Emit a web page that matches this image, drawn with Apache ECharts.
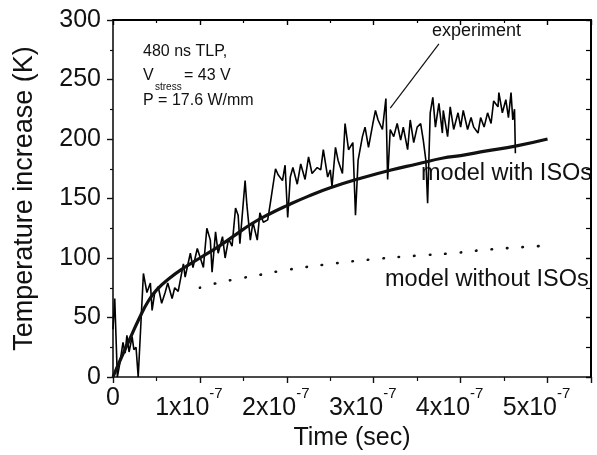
<!DOCTYPE html>
<html>
<head>
<meta charset="utf-8">
<script src="https://cdn.jsdelivr.net/npm/echarts@6/dist/echarts.min.js"></script>
<style>
html,body{margin:0;padding:0;background:#fff;overflow:hidden;}
#c{width:597px;height:455px;}
</style>
</head>
<body>
<div id="c"></div>
<script>
// time in units of 1e-7 s, temperature increase in K
const expTime = [
  0, 0.02, 0.05, 0.08, 0.115, 0.14, 0.16, 0.185, 0.22, 0.24,
  0.265, 0.29, 0.35, 0.39, 0.43, 0.45, 0.48, 0.52, 0.56, 0.60,
  0.63, 0.68, 0.71, 0.75, 0.81, 0.83, 0.89, 0.92, 0.97, 1.04,
  1.08, 1.12, 1.14, 1.18, 1.21, 1.26, 1.29, 1.33, 1.37, 1.41,
  1.44, 1.46, 1.52, 1.54, 1.58, 1.61, 1.66, 1.69, 1.73, 1.78,
  1.81, 1.87, 1.90, 1.95, 1.98, 2.01, 2.04, 2.07, 2.12, 2.16,
  2.21, 2.25, 2.29, 2.35, 2.39, 2.42, 2.47, 2.50, 2.52, 2.56,
  2.59, 2.64, 2.67, 2.71, 2.76, 2.79, 2.82, 2.87, 2.90, 2.94,
  2.99, 3.02, 3.05, 3.10, 3.14, 3.16, 3.19, 3.23, 3.27, 3.31,
  3.34, 3.39, 3.42, 3.46, 3.50, 3.54, 3.57, 3.60, 3.62, 3.65,
  3.68, 3.71, 3.75, 3.79, 3.80, 3.85, 3.88, 3.92, 3.97, 4.00,
  4.03, 4.08, 4.12, 4.15, 4.20, 4.23, 4.27, 4.31, 4.35, 4.38,
  4.43, 4.44, 4.48, 4.52, 4.55, 4.58, 4.60, 4.62, 4.63
];
const expTemp = [
  40, 66, 0, 12, 29, 20, 35, 21, 34, 23,
  25, 0, 87, 71, 79, 56, 71, 76, 62, 71,
  79, 66, 75, 72, 95, 84, 104, 92, 108, 92,
  125, 115, 88, 122, 104, 118, 100, 116, 110, 142,
  136, 112, 165, 145, 115, 130, 115, 138, 130, 132,
  146, 175, 170, 165, 178, 134, 168, 176, 162, 179,
  166, 185, 171, 176, 174, 191, 168, 174, 160, 193,
  182, 171, 213, 191, 197, 136, 182, 202, 210, 193,
  213, 224, 216, 208, 234, 166, 208, 202, 213, 199,
  210, 191, 216, 197, 210, 213, 199, 182, 146, 222,
  235, 210, 230, 205, 224, 202, 227, 208, 222, 210,
  224, 208, 218, 210, 205, 218, 210, 222, 213, 232,
  227, 239, 222, 233, 218, 239, 216, 225, 188
];
const modelTime = [0, 0.1, 0.2, 0.3, 0.4, 0.5, 0.65, 0.8, 1.0, 1.2, 1.4, 1.6, 1.8, 2.0, 2.25, 2.5, 2.85, 3.2, 3.5, 3.8, 4.0, 4.3, 4.63, 5.0];
const modelTemp = [0, 17, 33, 49, 63, 73, 83, 91, 100, 109, 119, 129, 137, 144, 152, 159, 167, 174, 179, 184, 186, 190, 194, 200];
const noIsoTime = [1.0, 1.2, 1.4, 1.7, 2.0, 2.5, 3.0, 3.5, 3.9, 4.3, 4.9];
const noIsoTemp = [75, 79, 82, 86, 90, 95, 99, 102, 104, 107, 110];
const arrowFrom = [3.75, 280];
const arrowTo = [3.19, 226];
const xMin = 0, xMax = 5.5, yMin = 0, yMax = 300;
const yTicks = [0, 50, 100, 150, 200, 250, 300];

const FF = "'Liberation Sans', Arial, Helvetica, sans-serif";
const zip = (a, b) => a.map((v, i) => [v, b[i]]);
const INK = '#111';

const chart = echarts.init(document.getElementById('c'), null, {renderer: 'canvas'});
chart.setOption({
  animation: false,
  backgroundColor: '#fff',
  grid: {left: 113, right: 6, top: 20, bottom: 78, containLabel: false, outerBoundsMode: 'none'},
  xAxis: [{
    type: 'value', min: xMin, max: xMax, interval: 1, position: 'bottom',
    axisLine: {show: true, onZero: false, lineStyle: {color: INK, width: 1.6}},
    axisTick: {show: true, inside: false, length: 6, lineStyle: {color: INK, width: 1.4}},
    minorTick: {show: true, splitNumber: 2, length: 4, lineStyle: {color: INK, width: 1.2}},
    splitLine: {show: false},
    axisLabel: {
      margin: 9, color: INK, fontFamily: FF,
      formatter: function (v) {
        if (Math.abs(v) < 1e-9) return '{z|0}';
        if (Math.abs(v - Math.round(v)) > 1e-6) return '';
        return '{b|' + Math.round(v) + 'x10}{s|-7}';
      },
      rich: {
        z: {fontSize: 25, lineHeight: 24, fontFamily: FF, color: INK},
        b: {fontSize: 25, lineHeight: 44, fontFamily: FF, color: INK},
        s: {fontSize: 15, lineHeight: 26, verticalAlign: 'top', fontFamily: FF, color: INK, padding: [0, 22, 0, 0]}
      }
    },
    name: 'Time (sec)', nameLocation: 'middle', nameGap: 46,
    nameTextStyle: {fontSize: 25, fontFamily: FF, color: INK}
  }, {
    type: 'value', min: xMin, max: xMax, interval: 1, position: 'top',
    axisLine: {show: true, onZero: false, lineStyle: {color: '#000', width: 2}},
    axisTick: {show: true, inside: true, length: 5, lineStyle: {color: '#000', width: 1.4}},
    minorTick: {show: true, splitNumber: 2, length: 3, lineStyle: {color: '#000', width: 1.2}},
    splitLine: {show: false},
    axisLabel: {show: false}
  }],
  yAxis: [{
    type: 'value', min: yMin, max: yMax, interval: 50, position: 'left',
    axisLine: {show: true, onZero: false, lineStyle: {color: INK, width: 1.6}},
    axisTick: {show: true, inside: false, length: 6, lineStyle: {color: INK, width: 1.4}},
    minorTick: {show: true, splitNumber: 2, length: 3, lineStyle: {color: INK, width: 1.2}},
    splitLine: {show: false},
    axisLabel: {
      margin: 12, fontSize: 25, fontFamily: FF, color: INK,
      formatter: v => yTicks.includes(v) ? String(v) : ''
    },
    name: 'Temperature increase (K)', nameLocation: 'middle', nameGap: 75,
    nameTextStyle: {fontSize: 27, fontFamily: FF, color: INK}
  }, {
    type: 'value', min: yMin, max: yMax, interval: 50, position: 'right',
    axisLine: {show: true, onZero: false, lineStyle: {color: '#000', width: 2}},
    axisTick: {show: true, inside: true, length: 5, lineStyle: {color: '#000', width: 1.4}},
    minorTick: {show: true, splitNumber: 2, length: 5, lineStyle: {color: '#000', width: 1.2}},
    splitLine: {show: false},
    axisLabel: {show: false}
  }],
  series: [{
    name: 'experiment', type: 'line', xAxisIndex: 0, yAxisIndex: 0,
    data: zip(expTime, expTemp), showSymbol: false, smooth: false,
    lineStyle: {color: '#000', width: 1.6}, z: 3,
    markLine: {
      silent: true, symbol: ['none', 'arrow'], symbolSize: [0, 9],
      label: {show: false},
      lineStyle: {color: INK, width: 1.2, type: 'solid'},
      data: [[{coord: arrowFrom}, {coord: arrowTo}]]
    }
  }, {
    name: 'model with ISOs', type: 'line', xAxisIndex: 0, yAxisIndex: 0,
    data: zip(modelTime, modelTemp), showSymbol: false, smooth: true,
    lineStyle: {color: INK, width: 3.2}, z: 4
  }, {
    name: 'model without ISOs', type: 'line', xAxisIndex: 0, yAxisIndex: 0,
    data: zip(noIsoTime, noIsoTemp), showSymbol: false, smooth: true,
    lineStyle: {color: INK, width: 2.6, type: [0.5, 15], cap: 'round'}, z: 2
  }, {
    name: 'frame', type: 'line', xAxisIndex: 0, yAxisIndex: 0,
    data: [[xMin, yMax], [xMax, yMax], [xMax, yMin]],
    showSymbol: false, silent: true, clip: false, z: 10,
    lineStyle: {color: '#000', width: 2}
  }],
  graphic: [
    {type: 'text', x: 143, y: 52, silent: true, style: {text: '480 ns TLP,', font: '16px ' + FF, fill: INK, verticalAlign: 'middle'}},
    {type: 'text', x: 143, y: 76, silent: true, style: {text: 'V', font: '16px ' + FF, fill: INK, verticalAlign: 'middle'}},
    {type: 'text', x: 155, y: 87, silent: true, style: {text: 'stress', font: '10px ' + FF, fill: INK, verticalAlign: 'middle'}},
    {type: 'text', x: 184, y: 76, silent: true, style: {text: '= 43 V', font: '16px ' + FF, fill: INK, verticalAlign: 'middle'}},
    {type: 'text', x: 143, y: 101, silent: true, style: {text: 'P = 17.6 W/mm', font: '16px ' + FF, fill: INK, verticalAlign: 'middle'}},
    {type: 'text', x: 432, y: 31, silent: true, style: {text: 'experiment', font: '18px ' + FF, fill: INK, verticalAlign: 'middle'}},
    {type: 'text', x: 421, y: 174, silent: true, style: {text: 'model with ISOs', font: '23.5px ' + FF, fill: INK, verticalAlign: 'middle'}},
    {type: 'text', x: 385, y: 280, silent: true, style: {text: 'model without ISOs', font: '23.5px ' + FF, fill: INK, verticalAlign: 'middle'}}
  ]
});
</script>
</body>
</html>
